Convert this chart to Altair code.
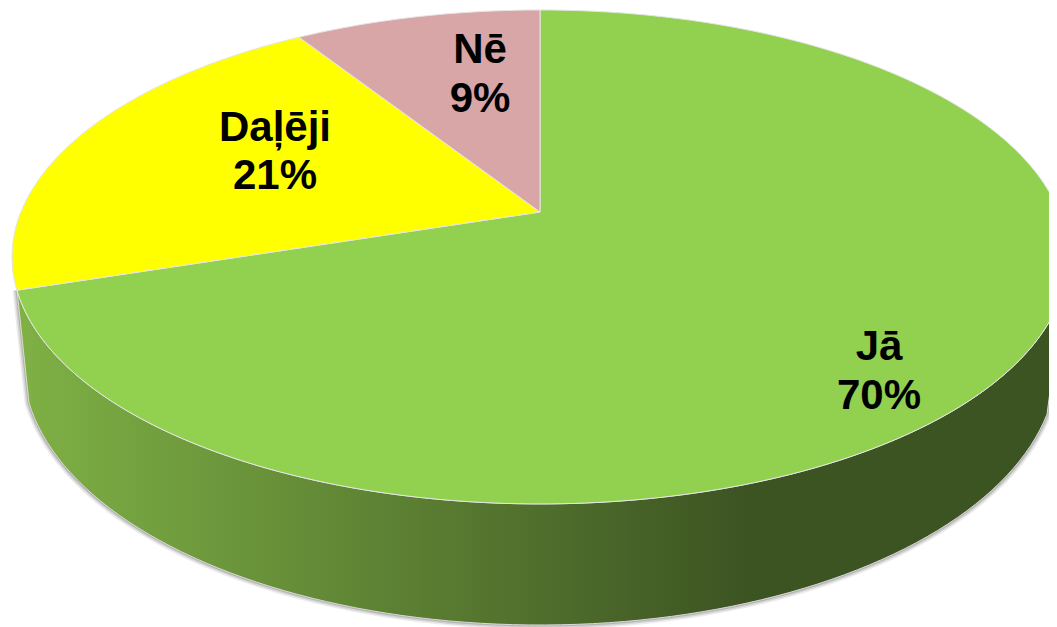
import math
import altair as alt
import pandas as pd

# values
categories = ["Jā", "Daļēji", "Nē"]
shares = [70, 21, 9]
percent_labels = ["70%", "21%", "9%"]
top_colors = ["#92d050", "#ffff00", "#d8a6a6"]

# page-pixel frame, perspective of the tilted disc
PAGE_W, PAGE_H, MARGIN = 1057, 627, 8
CX, CY = 540.0, 212.0          # projected pie centre
A, B, K = 519.0, 238.8, 0.182  # homography mapping the unit circle to the rim
LOW_CX, LOW_CY, LOW_RX, LOW_RY = 540.0, 363.0, 517.0, 262.0  # lower outline


def rim(deg, r=1.0):
    t = math.radians(deg)
    u, v = r * math.sin(t), r * math.cos(t)
    w = 1 + K * v
    return CX + A * u / w, CY - B * v / w


def lower(dx_from, dx_to, n=90):
    pts = []
    a0 = math.acos(max(-1, min(1, dx_from / LOW_RX)))
    a1 = math.acos(max(-1, min(1, dx_to / LOW_RX)))
    for i in range(n + 1):
        a = a0 + (a1 - a0) * i / n
        pts.append((LOW_CX + LOW_RX * math.cos(a), LOW_CY + LOW_RY * math.sin(a)))
    return pts


def poly(name, pts):
    return [{"name": name, "i": i, "x": x, "y": y} for i, (x, y) in enumerate(pts)]


x_scale = alt.Scale(domain=[MARGIN, PAGE_W - MARGIN], nice=False, zero=False)
y_scale = alt.Scale(domain=[PAGE_H, MARGIN], nice=False, zero=False)


def shape(rows, **mark):
    return alt.Chart(pd.DataFrame(rows)).mark_line(clip=True, interpolate="linear", **mark).encode(
        x=alt.X("x:Q", scale=x_scale, axis=None),
        y=alt.Y("y:Q", scale=y_scale, axis=None),
        order="i:Q",
    )


layers = []

# top-face wedges
start = 0.0
wedges = []
for cat, share, col in zip(categories, shares, top_colors):
    sweep = share * 3.6
    n = max(8, int(sweep))
    pts = [(CX, CY)] + [rim(start + sweep * i / n) for i in range(n + 1)] + [(CX, CY)]
    wedges.append((cat, pts, col))
    start += sweep
yes_end = shares[0] * 3.6

# side wall: rim from the left end round to the right, then lower outline back
wall_top = [rim(yes_end - (yes_end - 100.5) * i / 100) for i in range(101)]
wall_low = lower(507, -511)
wall = wall_top + wall_low + [wall_top[0]]

# soft shadow around the lower outline
for w, op in [(9, 0.10), (6, 0.14), (3, 0.22)]:
    layers.append(shape(poly("shadow", [wall_top[-1]] + wall_low + [wall_top[0]]),
                        stroke="#404040", strokeWidth=w, opacity=op))

# sliver of the yellow wall at the far left
sliver = [rim(yes_end + 18 * i / 10) for i in range(11)][::-1] + [wall_low[-1]]
layers.append(shape(poly("sliver", sliver + [sliver[0]]), fill="#d8d800", stroke="#d8d800", strokeWidth=0.5))

gradient = alt.Gradient(
    gradient="linear", x1=0, x2=1, y1=0, y2=0,
    stops=[
        alt.GradientStop(offset=0, color="#7fb145"),
        alt.GradientStop(offset=0.70, color="#3c5322"),
        alt.GradientStop(offset=1, color="#3c5322"),
    ],
)
layers.append(shape(poly("wall", wall), fill=gradient, stroke="#d9d9d9", strokeWidth=1))

for cat, pts, col in wedges:
    layers.append(shape(poly(cat, pts), fill=col, stroke="#e6e6e6", strokeWidth=1))

# labels
label_rows = []
anchors = {"Jā": (879, 347, 396), "Daļēji": (275, 128, 176), "Nē": (480, 50, 99)}
for cat, pct in zip(categories, percent_labels):
    ax, y1, y2 = anchors[cat]
    label_rows.append({"x": ax, "y": y1, "text": cat})
    label_rows.append({"x": ax, "y": y2, "text": pct})
labels = alt.Chart(pd.DataFrame(label_rows)).mark_text(
    font="Liberation Sans", fontWeight="bold", fontSize=42, color="#000000", baseline="middle", align="center"
).encode(
    x=alt.X("x:Q", scale=x_scale, axis=None),
    y=alt.Y("y:Q", scale=y_scale, axis=None),
    text="text:N",
)
layers.append(labels)

chart = alt.layer(*layers).properties(
    width=PAGE_W - 2 * MARGIN, height=PAGE_H - MARGIN, padding=0, background="#ffffff"
).configure_view(stroke=None)

chart.save("out.html", embed_options={"renderer": "svg", "actions": False})
